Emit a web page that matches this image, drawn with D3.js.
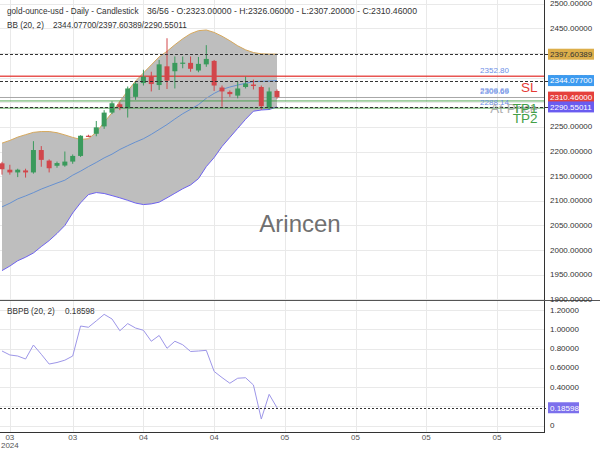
<!DOCTYPE html>
<html><head><meta charset="utf-8">
<script src="https://cdn.jsdelivr.net/npm/d3@7"></script>
<style>body{margin:0;background:#fff}svg{display:block;font-family:"Liberation Sans",Arial,sans-serif}</style>
</head><body><svg id="c" width="600" height="450"></svg>
<script>
// ---- data ----
const opens  = [2176,2163,2157.5,2161.5,2157.5,2203,2181.5,2171,2171.5,2179.5,2191,2232,2236,2251,2279,2296,2288,2311,2339,2352,2335,2373,2363,2379,2380,2364.5,2377,2384,2330,2321,2313.5,2331,2336,2331,2289,2323];
const highs  = [2179,2173,2165,2165,2221,2211,2184,2179.5,2200,2194,2233,2234,2262,2284,2302,2300,2332,2341,2366,2362,2386,2430,2393,2393,2393,2392,2416,2386,2334,2324,2342,2352,2346,2334,2330,2326.06];
const lows   = [2153,2153,2148,2147,2155,2169,2157.5,2167,2169,2175,2189,2229,2231,2246,2276,2284,2269,2305,2334,2322,2325,2327,2328,2369,2362,2361,2372,2323,2291,2311,2308,2328,2326,2285,2285,2307.2];
const closes = [2164,2157.5,2163,2157.5,2203,2183,2166,2176.5,2179.5,2191,2232,2230.5,2249,2279,2298,2290,2328,2338,2352,2337,2377,2344,2380,2380.5,2368,2378,2388,2334,2322,2316.5,2328,2338,2333,2292,2322,2310.46];
const bbUpper  = [2217,2222.5,2229.2,2234.2,2238.9,2240.5,2240.5,2238.2,2233.7,2228.6,2224.5,2226,2238.9,2259.3,2278.7,2302.2,2322.7,2343.1,2359.5,2375.9,2392.2,2403.5,2416.8,2429,2439.3,2445.4,2446.8,2441.9,2434.2,2425,2414.7,2406.5,2401,2398.4,2397.8,2397.60389];
const bbMiddle = [2087.6,2094.9,2103.7,2109.8,2116.4,2123.7,2129.8,2135.9,2141.7,2151.9,2160.1,2169.3,2177.8,2187,2194.6,2204.1,2211.8,2219.2,2225.9,2234.8,2244.7,2254.7,2266,2276.7,2285.7,2295.1,2308.1,2318,2326,2331,2335,2338.5,2342,2342.5,2343,2344.077];
const bbLower  = [1958.1,1967.3,1978.1,1985.3,1993.9,2006.9,2019,2033.5,2049.7,2075.2,2095.7,2112.5,2116.6,2114.7,2110.4,2105.9,2100.8,2095.3,2092.2,2093.6,2097.1,2105.9,2115.1,2124.3,2132.1,2144.8,2169.3,2187.7,2210.2,2228.6,2247,2265.4,2281.8,2284.3,2285.3,2290.55011];
const bbpb     = [0.774,0.733,0.722,0.691,0.836,0.740,0.639,0.655,0.679,0.722,1.033,1.020,1.086,1.154,1.106,0.984,1.058,1.012,0.989,0.875,0.935,0.802,0.875,0.839,0.769,0.774,0.781,0.562,0.499,0.440,0.492,0.497,0.422,0.069,0.325,0.18598];
const priceTicks = [2500,2450,2400,2350,2300,2250,2200,2150,2100,2050,2000,1950,1900];
const bbpbTicks  = [1.2,1.0,0.8,0.6,0.4,0.2,0];
const bbpbTickLabels = [1.2,1.0,0.8,0.6,0.4,0];
const xTickIdx    = [1,9,18,27,36,45,54,63];
const xTickLabels = ["03","03","04","04","05","05","05","05"];
const levelNames  = ["SL","At Price","TP1","TP2"];
const levelValues = [2352.80,2309.69,2302.68,2288.14];
const levelPriceText = ["2352.80","2309.69","2308.68","2288.14"];
const levelColors = ["#e53935","#9e9e9e","#43a047","#43a047"];
const lastBadges = [2397.60389,2344.07700,2310.46000,2290.55011];
const badgeColors = ["#dcae4a","#3d9bf0","#e5403c","#6a5cf0"];
const badgeText   = ["#333","#fff","#fff","#fff"];

// ---- layout ----
const svg = d3.select("#c");
const AX = 544, MAIN_B = 300, SUB_B = 432;
const x = d3.scaleLinear().domain([0,35]).range([2,277]);
const y = d3.scaleLinear().domain([1900,2500]).range([299.2,3.8]);
const yb = d3.scaleLinear().domain([0,1.2]).range([425.7,309.9]);
const idx = d3.range(closes.length);

const defs = svg.append("defs");
defs.append("clipPath").attr("id","cm").append("rect").attr("x",0).attr("y",0).attr("width",AX).attr("height",MAIN_B);
defs.append("clipPath").attr("id","cb").append("rect").attr("x",0).attr("y",MAIN_B).attr("width",AX).attr("height",SUB_B-MAIN_B);

// grid
const grid = svg.append("g").attr("stroke","#e9e9e9").attr("stroke-width",1);
priceTicks.forEach(v=>grid.append("line").attr("x1",0).attr("x2",AX).attr("y1",Math.round(y(v))+0.5).attr("y2",Math.round(y(v))+0.5));
bbpbTicks.forEach(v=>grid.append("line").attr("x1",0).attr("x2",AX).attr("y1",Math.round(yb(v))+0.5).attr("y2",Math.round(yb(v))+0.5));
xTickIdx.forEach(i=>{ if(x(i)<AX) grid.append("line").attr("x1",Math.round(x(i))+0.5).attr("x2",Math.round(x(i))+0.5).attr("y1",0).attr("y2",SUB_B); });

// main panel
const gm = svg.append("g").attr("clip-path","url(#cm)");
gm.append("path").datum(idx)
  .attr("d", d3.area().x(i=>x(i)).y0(i=>y(bbLower[i])).y1(i=>y(bbUpper[i])))
  .attr("fill","#bebebe");
gm.append("path").datum(idx).attr("d", d3.line().x(i=>x(i)).y(i=>y(bbUpper[i])))
  .attr("fill","none").attr("stroke","#d6a85c").attr("stroke-width",1);
gm.append("path").datum(idx).attr("d", d3.line().x(i=>x(i)).y(i=>y(bbLower[i])))
  .attr("fill","none").attr("stroke","#6d62f0").attr("stroke-width",1);
gm.append("path").datum(idx).attr("d", d3.line().x(i=>x(i)).y(i=>y(bbMiddle[i])))
  .attr("fill","none").attr("stroke","#5b8bd2").attr("stroke-width",0.9);

// level lines
levelValues.forEach((v,k)=>{
  gm.append("line").attr("x1",0).attr("x2",AX).attr("y1",y(v)).attr("y2",y(v))
    .attr("stroke",levelColors[k]).attr("stroke-width",k===0?1.6:1).attr("opacity",k===0?0.85:0.9);
});
// dashed lines at last band values
[lastBadges[0],lastBadges[1],lastBadges[3]].forEach(v=>{
  svg.append("line").attr("x1",0).attr("x2",548).attr("y1",Math.round(y(v))+0.5).attr("y2",Math.round(y(v))+0.5)
    .attr("stroke","#333").attr("stroke-width",1).attr("stroke-dasharray","3,2");
});

// candles
const cg = gm.append("g");
idx.forEach(i=>{
  const up = closes[i] >= opens[i];
  const col = up ? "#3a9a5c" : "#d2464b";
  cg.append("line").attr("x1",x(i)).attr("x2",x(i)).attr("y1",y(highs[i])).attr("y2",y(lows[i]))
    .attr("stroke",col).attr("stroke-width",1);
  const top = y(Math.max(opens[i],closes[i])), bot = y(Math.min(opens[i],closes[i]));
  cg.append("rect").attr("x",x(i)-2.5).attr("width",5).attr("y",top).attr("height",Math.max(1.2,bot-top)).attr("fill",col);
});

// level texts
levelValues.forEach((v,k)=>{
  if (k!==2) svg.append("text").attr("x",509).attr("y",y(v)-3.2).attr("text-anchor","end")
    .attr("font-size",8).attr("fill","#6d8fe6").text(levelPriceText[k]);
});
svg.append("text").attr("x",509).attr("y",y(levelValues[2])-8).attr("text-anchor","end")
    .attr("font-size",8).attr("fill","#6d8fe6").attr("opacity",0.8).text(levelPriceText[2]);
const nameY = [92,113.3,113.3,123.3];
levelNames.forEach((n,k)=>{
  svg.append("text").attr("x",537.5).attr("y",nameY[k]).attr("text-anchor","end")
    .attr("font-size",13.5).attr("fill",levelColors[k]).attr("opacity",k===1?0.8:1).text(n);
});

// watermark
svg.append("text").attr("x",300).attr("y",232).attr("text-anchor","middle")
  .attr("font-size",24).attr("fill","#707070").text("Arincen");

// sub panel
const gb = svg.append("g").attr("clip-path","url(#cb)");
svg.append("line").attr("x1",0).attr("x2",548).attr("y1",Math.round(yb(bbpb[35]))+0.5).attr("y2",Math.round(yb(bbpb[35]))+0.5)
  .attr("stroke","#333").attr("stroke-dasharray","2,2");
gb.append("path").datum(idx).attr("d", d3.line().x(i=>x(i)).y(i=>yb(bbpb[i])))
  .attr("fill","none").attr("stroke","#9d96e8").attr("stroke-width",1);

// axes lines
svg.append("line").attr("x1",AX+0.5).attr("x2",AX+0.5).attr("y1",0).attr("y2",SUB_B).attr("stroke","#333");
svg.append("line").attr("x1",0).attr("x2",600).attr("y1",MAIN_B+0.5).attr("y2",MAIN_B+0.5).attr("stroke","#555");
svg.append("line").attr("x1",0).attr("x2",AX+1).attr("y1",SUB_B+0.5).attr("y2",SUB_B+0.5).attr("stroke","#333");

// right axis labels
const ra = svg.append("g").attr("font-size",8).attr("fill","#333");
priceTicks.forEach(v=>ra.append("text").attr("x",550).attr("y",y(v)+2.6).text(v.toFixed(5)));
bbpbTickLabels.forEach(v=>ra.append("text").attr("x",550).attr("y",yb(v)+2.6).text(v===0?"0":v.toFixed(5)));

// badges
lastBadges.forEach((v,k)=>{
  const cy = y(v);
  svg.append("rect").attr("x",548).attr("y",cy-5.5).attr("width",46).attr("height",11).attr("fill",badgeColors[k]);
  svg.append("text").attr("x",550).attr("y",cy+2.8).attr("font-size",8).attr("fill",badgeText[k]).text(v.toFixed(5));
});
{
  const cy = yb(bbpb[35]);
  svg.append("rect").attr("x",548).attr("y",cy-5.5).attr("width",31).attr("height",11).attr("fill","#7c70ec");
  svg.append("text").attr("x",550).attr("y",cy+2.8).attr("font-size",8).attr("fill","#fff").text(bbpb[35].toFixed(5));
}

// x axis labels
const xa = svg.append("g").attr("font-size",8).attr("fill","#555").attr("text-anchor","middle");
xTickIdx.forEach((i,k)=>{ xa.append("text").attr("x",x(i)).attr("y",440).text(xTickLabels[k]); });
xa.append("text").attr("x",x(xTickIdx[0])).attr("y",448).text("2024");

// headers
const h = svg.append("g").attr("font-size",8.2).attr("fill","#333");
h.append("text").attr("x",7).attr("y",13.5).text("gold-ounce-usd - Daily - Candlestick");
h.append("text").attr("x",147).attr("y",13.5).attr("font-size",8.7).text("36/56 - O:2323.00000 - H:2326.06000 - L:2307.20000 - C:2310.46000");
h.append("text").attr("x",7).attr("y",28).text("BB (20, 2)");
h.append("text").attr("x",53).attr("y",28).text("2344.07700/2397.60389/2290.55011");
h.append("text").attr("x",7).attr("y",314).text("BBPB (20, 2)");
h.append("text").attr("x",65).attr("y",314).text("0.18598");
</script></body></html>
